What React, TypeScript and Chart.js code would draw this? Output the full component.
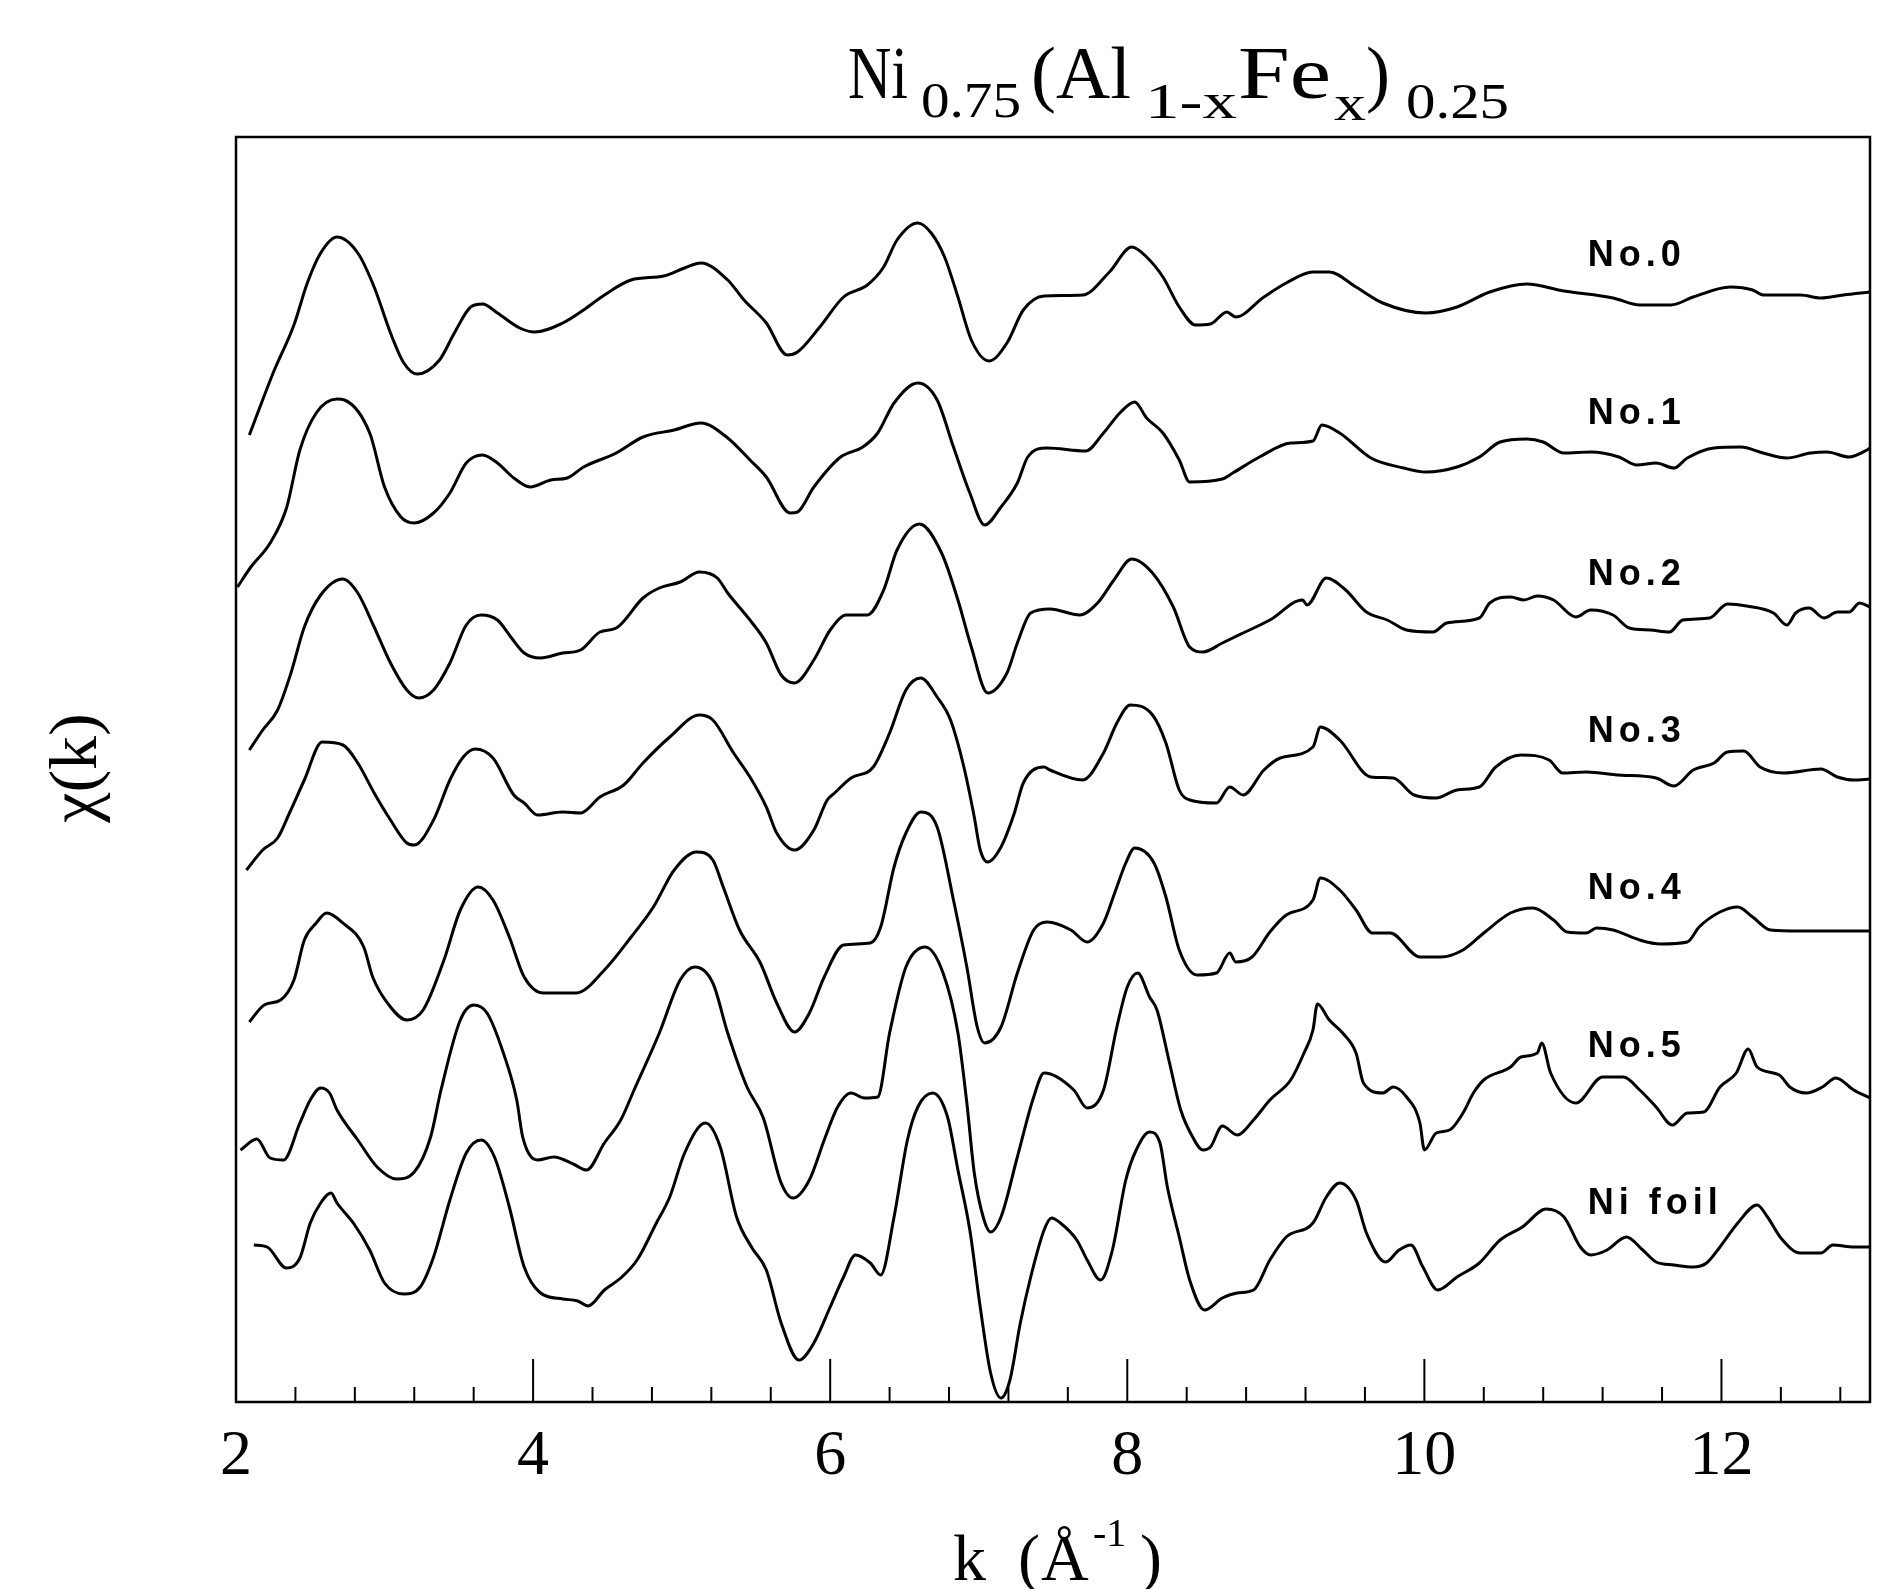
import React, { useEffect, useRef } from "react";
import { Chart, registerables } from "chart.js";

Chart.register(...registerables);

type Pt = [number, number];

// k (Å^-1), chi(k) + vertical offset (plot units)
const no0: Pt[] = [[2.09,9.68],[2.25,10.30],[2.39,10.78],[2.48,11.20],[2.57,11.50],[2.68,11.66],[2.82,11.50],[2.93,11.16],[3.04,10.70],[3.13,10.40],[3.22,10.29],[3.37,10.43],[3.47,10.70],[3.58,10.96],[3.66,10.99],[3.76,10.90],[3.91,10.75],[4.01,10.71],[4.20,10.80],[4.34,10.93],[4.48,11.08],[4.66,11.23],[4.88,11.27],[5.02,11.35],[5.13,11.40],[5.31,11.23],[5.42,11.03],[5.57,10.80],[5.71,10.48],[5.78,10.51],[5.93,10.76],[6.09,11.06],[6.25,11.18],[6.36,11.36],[6.45,11.63],[6.59,11.80],[6.68,11.70],[6.77,11.46],[6.86,11.06],[6.95,10.63],[7.07,10.42],[7.19,10.60],[7.30,10.93],[7.44,11.07],[7.70,11.08],[7.88,11.31],[8.03,11.56],[8.13,11.46],[8.24,11.26],[8.35,10.96],[8.46,10.78],[8.56,10.79],[8.67,10.91],[8.73,10.86],[8.92,11.06],[9.07,11.20],[9.25,11.31],[9.36,11.31],[9.54,11.16],[9.72,11.00],[10.01,10.90],[10.22,10.96],[10.44,11.11],[10.69,11.19],[10.94,11.12],[11.27,11.05],[11.45,10.98],[11.66,10.98],[11.81,11.06],[12.06,11.16],[12.21,11.13],[12.28,11.08],[12.53,11.08],[12.67,11.05],[12.82,11.08],[13.00,11.11]];

const no1: Pt[] = [[2.01,8.16],[2.10,8.36],[2.23,8.60],[2.34,8.95],[2.43,9.53],[2.54,9.90],[2.68,10.04],[2.73,10.03],[2.90,9.70],[3.00,9.16],[3.11,8.86],[3.20,8.80],[3.33,8.90],[3.44,9.10],[3.55,9.40],[3.66,9.48],[3.76,9.40],[3.87,9.25],[3.98,9.16],[4.12,9.23],[4.23,9.25],[4.34,9.36],[4.56,9.50],[4.74,9.66],[4.95,9.73],[5.13,9.80],[5.31,9.65],[5.46,9.43],[5.57,9.26],[5.73,8.90],[5.78,8.91],[5.89,9.16],[6.07,9.46],[6.22,9.56],[6.32,9.70],[6.43,10.00],[6.59,10.20],[6.72,10.03],[6.83,9.56],[6.94,9.10],[7.04,8.78],[7.15,8.96],[7.26,9.20],[7.33,9.46],[7.46,9.55],[7.72,9.52],[7.84,9.70],[7.95,9.90],[8.05,10.01],[8.13,9.85],[8.24,9.70],[8.35,9.43],[8.42,9.21],[8.64,9.24],[8.71,9.30],[8.89,9.46],[9.10,9.60],[9.25,9.62],[9.31,9.78],[9.43,9.70],[9.64,9.45],[9.86,9.35],[10.01,9.31],[10.22,9.36],[10.37,9.46],[10.51,9.61],[10.69,9.64],[10.80,9.61],[10.94,9.50],[11.12,9.51],[11.31,9.46],[11.43,9.38],[11.56,9.40],[11.68,9.35],[11.77,9.45],[11.95,9.55],[12.13,9.56],[12.28,9.50],[12.44,9.45],[12.60,9.50],[12.71,9.51],[12.86,9.46],[12.98,9.53],[13.00,9.55]];

const no2: Pt[] = [[2.09,6.53],[2.18,6.73],[2.28,6.93],[2.37,7.30],[2.46,7.76],[2.57,8.08],[2.72,8.24],[2.82,8.10],[2.93,7.76],[3.04,7.40],[3.15,7.13],[3.23,7.05],[3.33,7.13],[3.44,7.40],[3.55,7.78],[3.65,7.88],[3.76,7.83],[3.85,7.66],[3.94,7.50],[4.05,7.45],[4.20,7.50],[4.32,7.53],[4.45,7.71],[4.56,7.75],[4.74,8.05],[4.85,8.15],[4.99,8.21],[5.12,8.31],[5.24,8.25],[5.31,8.10],[5.46,7.83],[5.57,7.60],[5.67,7.28],[5.76,7.20],[5.89,7.43],[6.00,7.73],[6.11,7.88],[6.25,7.88],[6.36,8.13],[6.45,8.53],[6.60,8.79],[6.75,8.50],[6.86,8.03],[6.95,7.56],[7.06,7.10],[7.19,7.30],[7.26,7.60],[7.35,7.90],[7.48,7.94],[7.68,7.88],[7.80,8.00],[7.91,8.23],[8.03,8.44],[8.17,8.30],[8.31,7.96],[8.42,7.56],[8.51,7.51],[8.64,7.60],[8.78,7.70],[8.96,7.83],[9.18,8.03],[9.21,7.98],[9.34,8.25],[9.47,8.13],[9.61,7.91],[9.75,7.83],[9.88,7.73],[10.06,7.71],[10.15,7.80],[10.37,7.85],[10.44,8.00],[10.58,8.06],[10.67,8.03],[10.76,8.07],[10.87,8.03],[11.02,7.86],[11.12,7.93],[11.27,7.88],[11.38,7.75],[11.52,7.73],[11.65,7.71],[11.74,7.83],[11.92,7.85],[12.04,7.99],[12.17,7.97],[12.35,7.90],[12.44,7.78],[12.50,7.90],[12.59,7.95],[12.69,7.85],[12.78,7.91],[12.86,7.91],[12.93,8.00],[13.00,7.96]];

const no3: Pt[] = [[2.07,5.33],[2.18,5.53],[2.28,5.65],[2.36,5.90],[2.46,6.23],[2.58,6.61],[2.72,6.58],[2.82,6.40],[2.93,6.10],[3.04,5.83],[3.15,5.60],[3.20,5.58],[3.33,5.83],[3.44,6.23],[3.53,6.46],[3.61,6.54],[3.73,6.45],[3.87,6.08],[3.94,6.00],[4.03,5.88],[4.20,5.91],[4.32,5.90],[4.45,6.06],[4.61,6.18],[4.74,6.40],[4.92,6.66],[5.12,6.88],[5.21,6.83],[5.35,6.50],[5.46,6.26],[5.57,5.96],[5.64,5.70],[5.76,5.53],[5.89,5.73],[5.98,6.03],[6.03,6.10],[6.14,6.25],[6.29,6.36],[6.40,6.70],[6.51,7.13],[6.61,7.25],[6.72,7.06],[6.81,6.83],[6.90,6.36],[6.97,5.86],[7.01,5.53],[7.06,5.41],[7.15,5.56],[7.24,5.90],[7.30,6.20],[7.44,6.36],[7.48,6.33],[7.70,6.23],[7.84,6.50],[7.93,6.80],[8.02,6.98],[8.17,6.88],[8.26,6.60],[8.35,6.13],[8.42,6.03],[8.60,6.00],[8.69,6.16],[8.78,6.08],[8.92,6.33],[9.03,6.45],[9.25,6.56],[9.30,6.76],[9.43,6.63],[9.64,6.26],[9.79,6.25],[9.93,6.08],[10.08,6.05],[10.22,6.13],[10.37,6.16],[10.48,6.36],[10.65,6.48],[10.84,6.43],[10.93,6.30],[11.09,6.31],[11.31,6.28],[11.56,6.25],[11.68,6.17],[11.81,6.33],[11.95,6.40],[12.04,6.51],[12.15,6.52],[12.26,6.36],[12.42,6.30],[12.67,6.34],[12.78,6.26],[12.89,6.23],[13.00,6.24]];

const no4: Pt[] = [[2.09,3.81],[2.19,3.98],[2.30,4.03],[2.39,4.23],[2.46,4.63],[2.54,4.80],[2.61,4.90],[2.72,4.80],[2.86,4.56],[2.92,4.26],[3.04,3.96],[3.15,3.83],[3.26,3.93],[3.40,4.43],[3.51,4.93],[3.63,5.16],[3.73,5.03],[3.84,4.66],[3.94,4.26],[4.07,4.10],[4.29,4.10],[4.48,4.33],[4.66,4.66],[4.81,4.96],[4.95,5.33],[5.10,5.51],[5.21,5.43],[5.28,5.16],[5.39,4.73],[5.53,4.40],[5.64,4.00],[5.76,3.71],[5.86,3.90],[5.96,4.26],[6.09,4.58],[6.27,4.60],[6.34,4.76],[6.43,5.36],[6.51,5.70],[6.61,5.91],[6.72,5.76],[6.83,5.03],[6.92,4.36],[6.99,3.76],[7.04,3.60],[7.15,3.76],[7.26,4.30],[7.37,4.73],[7.46,4.81],[7.62,4.73],[7.73,4.61],[7.84,4.80],[7.92,5.12],[7.99,5.40],[8.05,5.55],[8.18,5.40],[8.26,5.06],[8.35,4.53],[8.47,4.28],[8.60,4.30],[8.69,4.50],[8.73,4.41],[8.84,4.46],[8.96,4.71],[9.07,4.88],[9.25,5.03],[9.30,5.25],[9.43,5.13],[9.54,4.93],[9.65,4.70],[9.77,4.70],[9.97,4.46],[10.11,4.46],[10.26,4.53],[10.40,4.70],[10.58,4.90],[10.73,4.95],[10.87,4.83],[10.96,4.71],[11.09,4.70],[11.16,4.75],[11.27,4.73],[11.45,4.63],[11.59,4.59],[11.77,4.61],[11.85,4.76],[11.99,4.91],[12.11,4.96],[12.21,4.86],[12.33,4.73],[12.53,4.72],[13.00,4.72]];

const no5: Pt[] = [[2.03,2.53],[2.14,2.64],[2.23,2.45],[2.32,2.43],[2.43,2.80],[2.50,3.03],[2.57,3.15],[2.63,3.10],[2.68,2.93],[2.82,2.63],[2.95,2.36],[3.08,2.24],[3.20,2.31],[3.31,2.66],[3.38,3.13],[3.51,3.83],[3.60,3.98],[3.69,3.90],[3.80,3.50],[3.89,3.03],[3.93,2.66],[4.03,2.43],[4.14,2.46],[4.27,2.39],[4.36,2.33],[4.48,2.60],[4.59,2.83],[4.68,3.13],[4.85,3.70],[4.99,4.23],[5.09,4.36],[5.21,4.20],[5.31,3.70],[5.44,3.16],[5.55,2.85],[5.67,2.20],[5.75,2.05],[5.86,2.23],[5.96,2.63],[6.05,2.96],[6.14,3.10],[6.23,3.05],[6.32,3.06],[6.40,3.70],[6.51,4.36],[6.64,4.56],[6.76,4.30],[6.86,3.70],[6.92,3.00],[6.97,2.30],[7.03,1.86],[7.08,1.71],[7.15,1.86],[7.26,2.46],[7.37,3.06],[7.44,3.30],[7.64,3.13],[7.73,2.95],[7.84,3.13],[7.93,3.76],[8.00,4.16],[8.07,4.30],[8.15,4.06],[8.20,3.93],[8.28,3.43],[8.36,2.93],[8.44,2.66],[8.51,2.53],[8.56,2.56],[8.64,2.77],[8.74,2.68],[8.85,2.83],[8.96,3.03],[9.10,3.23],[9.19,3.50],[9.25,3.73],[9.28,3.99],[9.36,3.83],[9.45,3.70],[9.54,3.50],[9.59,3.20],[9.72,3.10],[9.79,3.16],[9.88,3.06],[9.97,2.80],[10.00,2.53],[10.08,2.70],[10.17,2.73],[10.26,2.90],[10.33,3.10],[10.40,3.23],[10.58,3.36],[10.65,3.46],[10.76,3.50],[10.79,3.60],[10.85,3.30],[11.02,3.00],[11.20,3.26],[11.34,3.26],[11.45,3.13],[11.56,2.96],[11.67,2.78],[11.77,2.90],[11.88,2.91],[11.99,3.16],[12.10,3.30],[12.18,3.54],[12.24,3.36],[12.39,3.28],[12.46,3.16],[12.57,3.10],[12.68,3.16],[12.77,3.25],[12.89,3.13],[13.00,3.05]];

const niFoil: Pt[] = [[2.12,1.58],[2.21,1.56],[2.34,1.35],[2.43,1.45],[2.50,1.80],[2.57,2.00],[2.64,2.10],[2.68,2.00],[2.79,1.80],[2.90,1.53],[3.00,1.20],[3.13,1.09],[3.24,1.16],[3.33,1.46],[3.44,2.03],[3.55,2.50],[3.65,2.63],[3.74,2.46],[3.84,1.96],[3.94,1.36],[4.05,1.10],[4.20,1.04],[4.30,1.02],[4.37,0.97],[4.48,1.13],[4.59,1.25],[4.70,1.43],[4.83,1.80],[4.92,2.06],[5.02,2.50],[5.16,2.80],[5.26,2.56],[5.37,1.86],[5.47,1.56],[5.57,1.33],[5.67,0.80],[5.79,0.43],[5.89,0.60],[6.00,0.96],[6.09,1.26],[6.17,1.48],[6.27,1.40],[6.34,1.28],[6.43,1.86],[6.52,2.63],[6.59,2.96],[6.69,3.10],[6.79,2.86],[6.86,2.33],[6.94,1.73],[7.01,0.96],[7.08,0.30],[7.15,0.05],[7.21,0.23],[7.28,0.80],[7.35,1.26],[7.44,1.73],[7.49,1.85],[7.55,1.80],[7.66,1.63],[7.73,1.43],[7.82,1.23],[7.90,1.53],[7.99,2.23],[8.06,2.53],[8.15,2.71],[8.22,2.60],[8.27,2.16],[8.35,1.66],[8.42,1.23],[8.52,0.93],[8.64,1.05],[8.74,1.10],[8.85,1.13],[8.96,1.43],[9.07,1.66],[9.25,1.80],[9.34,2.06],[9.43,2.20],[9.54,2.03],[9.61,1.70],[9.74,1.41],[9.83,1.53],[9.91,1.58],[9.99,1.36],[10.09,1.13],[10.22,1.26],[10.37,1.40],[10.51,1.63],[10.66,1.76],[10.82,1.94],[10.94,1.86],[11.05,1.56],[11.12,1.48],[11.23,1.53],[11.36,1.66],[11.47,1.53],[11.56,1.41],[11.68,1.38],[11.81,1.36],[11.90,1.40],[11.99,1.56],[12.11,1.80],[12.24,1.98],[12.31,1.86],[12.40,1.65],[12.53,1.50],[12.67,1.50],[12.75,1.58],[12.89,1.56],[13.00,1.56]];

const seriesNames = ["No.0", "No.1", "No.2", "No.3", "No.4", "No.5", "Ni foil"];
const seriesData: Pt[][] = [no0, no1, no2, no3, no4, no5, niFoil];
const labelK = 11.1;
const labelChi = [11.47, 9.89, 8.28, 6.71, 5.14, 3.56, 1.99];
const xMajorTicks = [2, 4, 6, 8, 10, 12];
const xMinorStep = 0.4;
const X_MIN = 2;
const X_MAX = 13;
const Y_MIN = 0.01;
const Y_MAX = 12.66;

// title pieces: text, subscript?
const titleParts: [string, boolean][] = [
  ["Ni", false],
  ["0.75", true],
  ["(Al", false],
  ["1-x", true],
  ["Fe", false],
  ["x", true],
  [")", false],
  ["0.25", true],
];

const W = 1904;
const H = 1589;
const SERIF = "'Liberation Serif', 'DejaVu Serif', serif";

export default function App() {
  const ref = useRef<HTMLCanvasElement>(null);

  useEffect(() => {
    document.body.style.margin = "0";
    const canvas = ref.current;
    if (!canvas) return;

    // layout boxes (left, width, baseline) for the title pieces
    const titleBoxes: [number, number, number][] = [
      [848, 60, 98],
      [921, 100, 117],
      [1031, 100, 98],
      [1145, 92, 118],
      [1238, 93, 98],
      [1334, 32, 120],
      [1366, 24, 98],
      [1406, 103, 118],
    ];

    const overlay = {
      id: "overlay",
      afterDraw(chart: any) {
        const { ctx, chartArea: a, scales } = chart;
        const xs = scales.x;
        const ys = scales.y;
        ctx.save();
        ctx.strokeStyle = "#000";
        ctx.fillStyle = "#000";
        // frame
        ctx.lineWidth = 2.5;
        ctx.strokeRect(a.left, a.top, a.right - a.left, a.bottom - a.top);
        // inward ticks
        ctx.lineWidth = 2;
        const n = Math.round((X_MAX - X_MIN) / xMinorStep);
        for (let i = 0; i <= n; i++) {
          const v = X_MIN + i * xMinorStep;
          if (v > X_MAX + 1e-9) break;
          const major = xMajorTicks.some((m) => Math.abs(m - v) < 1e-6);
          const px = xs.getPixelForValue(v);
          ctx.beginPath();
          ctx.moveTo(px, a.bottom);
          ctx.lineTo(px, a.bottom - (major ? 43 : 15));
          ctx.stroke();
        }
        // curve labels
        ctx.font = "bold 36px 'Liberation Sans', Arial, sans-serif";
        (ctx as any).letterSpacing = "5px";
        ctx.textAlign = "left";
        ctx.textBaseline = "middle";
        seriesNames.forEach((name, i) => {
          ctx.fillText(name, xs.getPixelForValue(labelK), ys.getPixelForValue(labelChi[i]));
        });
        (ctx as any).letterSpacing = "0px";
        // title Ni0.75(Al1-xFex)0.25, each piece stretched to its box
        ctx.textBaseline = "alphabetic";
        titleParts.forEach(([t, sub], i) => {
          const [x, w, y] = titleBoxes[i];
          ctx.font = sub ? `50px ${SERIF}` : `74px ${SERIF}`;
          const m = ctx.measureText(t).width;
          ctx.save();
          ctx.translate(x, y);
          ctx.scale(w / m, 1);
          ctx.fillText(t, 0, 0);
          ctx.restore();
        });
        // x axis title k (Å^-1)
        const xf = `66px ${SERIF}`;
        ctx.font = xf;
        ctx.fillText("k", 953, 1580);
        ctx.fillText("(", 1018, 1580);
        ctx.fillText("Å", 1041, 1580);
        ctx.font = `40px ${SERIF}`;
        ctx.fillText("-1", 1093, 1546);
        ctx.font = xf;
        ctx.fillText(")", 1140, 1580);
        // y axis title
        ctx.translate(96, 768);
        ctx.rotate(-Math.PI / 2);
        ctx.font = `68px ${SERIF}`;
        ctx.textAlign = "center";
        ctx.fillText("χ(k)", 0, 0);
        ctx.restore();
      },
    };

    const chart = new Chart(canvas, {
      type: "line",
      data: {
        datasets: seriesData.map((pts, i) => ({
          label: seriesNames[i],
          data: pts.map(([x, y]) => ({ x, y })),
          borderColor: "#000",
          backgroundColor: "#000",
          borderWidth: 3,
          pointRadius: 0,
          fill: false,
          cubicInterpolationMode: "monotone" as const,
        })),
      },
      options: {
        responsive: false,
        animation: false,
        devicePixelRatio: 1,
        layout: { padding: { left: 236, right: W - 1870, top: 137, bottom: 0 } },
        plugins: {
          legend: { display: false },
          tooltip: { enabled: false },
          title: { display: false },
        },
        scales: {
          x: {
            type: "linear",
            min: X_MIN,
            max: X_MAX,
            position: "bottom",
            grid: { display: false, drawTicks: false },
            border: { display: false },
            afterBuildTicks: (s: any) => {
              s.ticks = xMajorTicks.map((v) => ({ value: v }));
            },
            afterFit: (s: any) => {
              s.height = H - 1402;
            },
            ticks: {
              color: "#000",
              font: { family: SERIF, size: 64, lineHeight: 1.2 },
              padding: 17,
              maxRotation: 0,
              autoSkip: false,
              callback: (v: any) => String(v),
            },
          },
          y: { type: "linear", display: false, min: Y_MIN, max: Y_MAX },
        },
      },
      plugins: [overlay],
    } as any);

    return () => chart.destroy();
  }, []);

  return (
    <div style={{ position: "absolute", left: 0, top: 0, width: W, height: H, background: "#fff" }}>
      <canvas ref={ref} width={W} height={H} style={{ width: W, height: H, display: "block" }} />
    </div>
  );
}
